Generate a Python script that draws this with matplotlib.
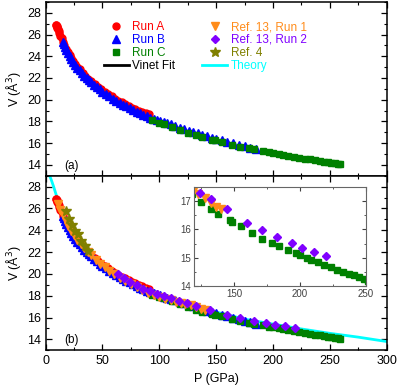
import matplotlib
matplotlib.use("Agg")
import matplotlib.pyplot as plt
from matplotlib.lines import Line2D
from matplotlib.ticker import MultipleLocator

plt.rcParams['font.family'] = ['Liberation Sans', 'DejaVu Sans']

# Run A (red circles)
runA_P = [9.0, 9.3, 9.6, 9.9, 10.3, 10.8, 11.4, 12.1, 13.0, 14.0, 15.2, 16.5, 18.0, 19.5,
          21.0, 22.5, 24.0, 26.0, 28.0, 30.0, 32.5, 35.0, 37.5, 40.0, 43.0, 46.0, 49.0,
          52.0, 55.0, 58.0, 61.0, 64.0, 67.0, 70.0, 73.0, 76.0, 79.0, 82.0, 85.0, 88.0, 90.5]
runA_V = [26.9, 26.85, 26.8, 26.72, 26.62, 26.5, 26.32, 26.12, 25.9, 25.65, 25.35, 25.0, 24.7, 24.4,
          24.1, 23.85, 23.6, 23.3, 23.05, 22.8, 22.5, 22.2, 21.95, 21.7, 21.45, 21.2, 20.95,
          20.7, 20.5, 20.3, 20.1, 19.92, 19.75, 19.58, 19.42, 19.28, 19.13, 19.0, 18.87, 18.75, 18.65]

# Run B (blue triangles)
runB_P = [15, 16, 17, 18, 19.5, 21, 22.5, 24, 26, 28, 30, 32, 34, 36, 38, 40, 42.5, 45, 47.5, 50,
          53, 56, 59, 62, 65, 68, 71, 74, 77, 80, 83, 86, 89, 92, 95, 98, 101, 104, 107, 110,
          114, 118, 122, 126, 130, 134, 138, 142, 146, 150, 155, 160, 165, 170, 175, 180, 185]
runB_V = [25.3, 25.1, 24.85, 24.6, 24.3, 24.0, 23.75, 23.5, 23.2, 22.95, 22.7, 22.45, 22.2, 22.0,
          21.8, 21.6, 21.4, 21.15, 20.95, 20.75, 20.5, 20.3, 20.1, 19.9, 19.72, 19.55, 19.38,
          19.22, 19.05, 18.9, 18.75, 18.6, 18.47, 18.34, 18.22, 18.12, 18.02, 17.92, 17.83, 17.72,
          17.58, 17.44, 17.3, 17.16, 17.03, 16.9, 16.77, 16.64, 16.52, 16.4, 16.26, 16.11,
          15.97, 15.83, 15.7, 15.56, 15.44]

# Run C (green squares)
runC_P = [94, 100, 104, 111, 118, 125, 132.3, 137.8, 146.7, 148.8, 155.1, 164, 171.1, 178.9,
          183.8, 190.9, 197, 200.3, 205.3, 208.6, 213.5, 218.3, 223.4, 228.4, 233, 237.1,
          241.3, 245.1, 248.5, 251.5, 254.5, 257, 259.5]
runC_V = [18.1, 17.88, 17.75, 17.5, 17.25, 16.97, 16.72, 16.54, 16.32, 16.26, 16.11, 15.86,
          15.67, 15.52, 15.43, 15.28, 15.16, 15.09, 15.0, 14.92, 14.84, 14.75, 14.68, 14.58,
          14.51, 14.44, 14.37, 14.3, 14.24, 14.19, 14.14, 14.1, 14.06]

# Ref. 13, Run 1 (orange down triangles)
r13a_P = [11, 13, 15, 17.5, 20, 22.5, 25, 28, 31, 34, 37, 40, 44, 48, 52, 56, 60, 65, 70, 75,
          80, 85, 90, 95, 100, 105, 110, 115, 119, 122.6, 128.2, 132.3, 136.6, 139.9]
r13a_V = [26.4, 25.9, 25.4, 24.85, 24.35, 23.95, 23.55, 23.1, 22.7, 22.35, 22.0, 21.7, 21.3,
          20.95, 20.6, 20.3, 20.0, 19.65, 19.35, 19.05, 18.78, 18.52, 18.28, 18.05, 17.88,
          17.72, 17.58, 17.45, 17.36, 17.25, 17.12, 16.94, 16.8, 16.73]

# Ref. 13, Run 2 (purple diamonds)
r13b_P = [64, 69, 74, 80, 86, 92, 98, 104, 110, 117, 124, 132.3, 144.7, 159.9, 171.3, 183,
          194.1, 201.6, 210.5, 219.6]
r13b_V = [19.95, 19.62, 19.3, 18.95, 18.65, 18.4, 18.2, 17.95, 17.75, 17.5, 17.3, 17.06,
          16.73, 16.24, 15.98, 15.72, 15.52, 15.35, 15.2, 15.07]

# Ref. 4 (olive stars)
ref4_P = [18.2, 20.2, 23, 26, 28.5, 31.5, 34.5, 37.6]
ref4_V = [25.8, 25.0, 24.45, 23.95, 23.7, 23.0, 22.55, 22.1]

# Theory (cyan line)
theo_P = [3.5, 5, 7, 10, 15, 20, 30, 40, 50, 60, 80, 100, 125, 150, 175, 200, 225, 250, 275, 300]
theo_V = [29.0, 28.6, 28.0, 27.0, 25.6, 24.6, 23.2, 21.9, 20.9, 19.95, 18.95, 18.1, 17.25,
          16.5, 15.85, 15.4, 14.95, 14.55, 14.2, 13.8]

RED, BLUE, GREEN = "#ff0000", "#0000ff", "#008000"
ORANGE, PURPLE, OLIVE, CYAN = "#ff8c1a", "#8000ff", "#808000", "#00ffff"

sty = {
    "A": dict(marker="o", ms=5, color=RED, ls="none"),
    "B": dict(marker="^", ms=5.5, color=BLUE, ls="none"),
    "C": dict(marker="s", ms=4.2, color=GREEN, ls="none"),
    "R1": dict(marker="v", ms=5.5, color=ORANGE, ls="none"),
    "R2": dict(marker="D", ms=4.3, color=PURPLE, ls="none"),
    "R4": dict(marker="*", ms=7, color=OLIVE, ls="none"),
}


def style_axes(ax, fs=9):
    ax.tick_params(which="both", direction="in", top=True, right=True, labelsize=fs)
    ax.tick_params(which="major", length=4, width=0.9)
    ax.tick_params(which="minor", length=2, width=0.8)
    for s in ax.spines.values():
        s.set_linewidth(1.1)


fig = plt.figure(figsize=(3.99, 3.88), dpi=100)
ax1 = fig.add_axes([0.1145, 0.547, 0.8542, 0.448])
ax2 = fig.add_axes([0.1145, 0.0974, 0.8542, 0.4496])

for ax in (ax1, ax2):
    ax.set_xlim(0, 300)
    ax.set_ylim(13, 29)
    ax.xaxis.set_major_locator(MultipleLocator(50))
    ax.xaxis.set_minor_locator(MultipleLocator(25))
    ax.yaxis.set_minor_locator(MultipleLocator(1))
    ax.set_yticks([14, 16, 18, 20, 22, 24, 26, 28])
    style_axes(ax)
    ax.set_ylabel("V (Å$^3$)", fontsize=9, labelpad=3)

ax1.tick_params(labelbottom=False)

# panel (a)
ax1.plot(runA_P, runA_V, **sty["A"], zorder=3)
ax1.plot(runB_P, runB_V, **sty["B"], zorder=3)
ax1.plot(runC_P, runC_V, **sty["C"], zorder=3)
ax1.text(0.055, 0.04, "(a)", transform=ax1.transAxes, fontsize=8.5)

# panel (b)
ax2.plot(theo_P, theo_V, color=CYAN, lw=2, zorder=2)
ax2.plot(runA_P, runA_V, **sty["A"], zorder=3)
ax2.plot(runB_P, runB_V, **sty["B"], zorder=3)
ax2.plot(runC_P, runC_V, **sty["C"], zorder=3)
ax2.plot(r13a_P, r13a_V, **sty["R1"], zorder=4)
ax2.plot(r13b_P, r13b_V, **sty["R2"], zorder=5)
ax2.plot(ref4_P, ref4_V, **sty["R4"], zorder=5)
ax2.text(0.055, 0.04, "(b)", transform=ax2.transAxes, fontsize=8.5)
ax2.set_xlabel("P (GPa)", fontsize=9, labelpad=4)

# inset
axi = fig.add_axes([0.487, 0.263, 0.43, 0.255])
axi.plot(runC_P, runC_V, **sty["C"])
axi.plot(r13a_P, r13a_V, **sty["R1"])
axi.plot(r13b_P, r13b_V, **sty["R2"])
axi.set_xlim(120, 250)
axi.set_ylim(14, 17.5)
axi.set_xticks([150, 200, 250])
axi.set_yticks([14, 15, 16, 17])
axi.xaxis.set_minor_locator(MultipleLocator(25))
axi.yaxis.set_minor_locator(MultipleLocator(0.5))
axi.tick_params(which="both", direction="in", top=True, right=True, labelsize=7,
                colors="0.25", pad=2)
axi.tick_params(which="major", length=3)
axi.tick_params(which="minor", length=1.5)
for s in axi.spines.values():
    s.set_color("0.4")
    s.set_linewidth(0.8)

# legend
handles = [
    Line2D([], [], **sty["A"]), Line2D([], [], **sty["B"]), Line2D([], [], **sty["C"]),
    Line2D([], [], color="k", lw=2),
    Line2D([], [], **sty["R1"]), Line2D([], [], **sty["R2"]), Line2D([], [], **sty["R4"]),
    Line2D([], [], color=CYAN, lw=2),
]
labels = ["Run A", "Run B", "Run C", "Vinet Fit",
          "Ref. 13, Run 1", "Ref. 13, Run 2", "Ref. 4", "Theory"]
leg = ax1.legend(handles, labels, ncol=2, frameon=False, fontsize=8.5,
                 loc="upper left", bbox_to_anchor=(104 / 399, 1 - 21 / 388),
                 bbox_transform=fig.transFigure, borderpad=0, borderaxespad=0,
                 handlelength=2.1, handletextpad=0.3, labelspacing=0.08,
                 columnspacing=2.3)
for txt, c in zip(leg.get_texts(), [RED, BLUE, GREEN, "k", ORANGE, PURPLE, OLIVE, CYAN]):
    txt.set_color(c)

fig.savefig("out.png", dpi=100)
